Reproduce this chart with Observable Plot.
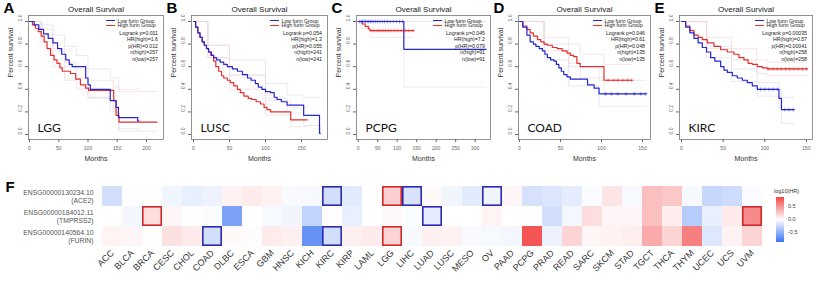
<!DOCTYPE html>
<html><head><meta charset="utf-8">
<script src="https://cdn.jsdelivr.net/npm/d3@7"></script>
<script src="https://cdn.jsdelivr.net/npm/@observablehq/plot@0.6"></script>
<style>
body{margin:0;background:#fff}
#root{position:relative;width:816px;height:281px;overflow:hidden;background:#fff;font-family:"Liberation Sans",Arial,sans-serif}
.abs{position:absolute}
</style></head><body><div id="root"></div>
<script>
// ---------- Kaplan-Meier data ----------
const panelLetters = ["A","B","C","D","E"];
const kmCancers = ["LGG","LUSC","PCPG","COAD","KIRC"];
const stat_logrank = ["0.011","0.054","0.045","0.046","0.00035"];
const stat_hr = ["1.6","1.3","7.2","0.61","0.57"];
const stat_phr = ["0.012","0.055","0.079","0.048","0.00041"];
const stat_nhigh = [257,241,91,135,258];
const stat_nlow = [257,241,91,135,258];
const xTicksA = [0,50,100,150,200];
const xTicksB = [0,50,100,150];
const xTicksC = [0,50,100,150,200,250,300];
const xTicksD = [0,50,100,150];
const xTicksE = [0,50,100,150];
const yTicks = [0,0.2,0.4,0.6,0.8,1.0];

// A  LGG
const A_low_t  = [0,8,16,24,32,40,48,55,62,68,73,96,100,104,138,148,152,185,187];
const A_low_s  = [1,0.97,0.93,0.89,0.85,0.81,0.76,0.71,0.66,0.62,0.60,0.50,0.44,0.40,0.30,0.24,0.15,0.12,0.12];
const A_high_t = [0,5,10,15,20,25,30,36,42,47,52,56,70,79,87,96,101,144,148,153,218];
const A_high_s = [1,0.97,0.94,0.91,0.87,0.82,0.76,0.70,0.66,0.63,0.59,0.56,0.54,0.49,0.44,0.41,0.39,0.30,0.17,0.11,0.11];
const A_ci_t_low  = [0,20,40,60,80,100,138,152,187];
const A_low_lo  = [1,0.88,0.74,0.60,0.50,0.33,0.20,0.05,0.05];
const A_low_hi  = [1,0.97,0.88,0.78,0.70,0.58,0.50,0.40,0.40];
const A_ci_t_high = [0,20,40,60,80,100,144,153,218];
const A_high_lo = [1,0.82,0.60,0.48,0.41,0.32,0.20,0.03,0.03];
const A_high_hi = [1,0.93,0.76,0.64,0.58,0.48,0.42,0.38,0.38];

// B  LUSC
const B_low_t  = [0,3,6,9,12,15,18,21,25,28,32,37,42,47,54,61,68,75,80,86,90,95,100,107,112,116,122,130,153,175,176];
const B_low_s  = [1,0.95,0.90,0.86,0.82,0.79,0.76,0.73,0.70,0.68,0.66,0.64,0.62,0.60,0.58,0.56,0.53,0.50,0.48,0.45,0.42,0.40,0.38,0.37,0.33,0.31,0.29,0.26,0.17,0.01,0.01];
const B_high_t = [0,3,6,9,12,15,18,21,24,28,31,35,39,42,47,51,56,61,65,70,76,81,87,93,98,102,107,135,158];
const B_high_s = [1,0.95,0.90,0.86,0.82,0.79,0.76,0.73,0.70,0.65,0.60,0.56,0.52,0.50,0.48,0.46,0.43,0.40,0.37,0.34,0.32,0.31,0.29,0.27,0.24,0.22,0.20,0.13,0.13];
const B_ci_t_low  = [0,20,50,100,130,153,176];
const B_low_lo  = [1,0.68,0.53,0.32,0.19,0.08,0.0];
const B_low_hi  = [1,0.79,0.66,0.45,0.35,0.33,0.33];
const B_ci_t_high = [0,20,50,100,135,158];
const B_high_lo = [1,0.68,0.40,0.17,0.07,0.07];
const B_high_hi = [1,0.79,0.52,0.30,0.24,0.24];

// C  PCPG
const C_low_t  = [0,117,328];
const C_low_s  = [1,0.754,0.754];
const C_high_t = [0,10,18,26,30,143];
const C_high_s = [1,0.978,0.956,0.934,0.92,0.92];
const C_ci_t_low  = [0,117,328];
const C_low_lo  = [1,0.42,0.42];
const C_low_hi  = [1,1,1];
const C_ci_t_high = [0,10,30,143];
const C_high_lo = [1,0.94,0.86,0.86];
const C_high_hi = [1,1,1,1];
const C_low_cens  = [3,7,11,15,19,23,27,31,35,40,45,50,56,62,68,75,82,90,98,106,113];
const C_high_cens = [35,40,46,52,58,64,70,77,84,92,100,110,120,130,140];

// D  COAD
const D_low_t  = [0,4,9,13,17,20,24,28,31,34,38,42,45,48,51,54,58,62,83,91,97,154];
const D_low_s  = [1,0.95,0.88,0.82,0.80,0.78,0.76,0.74,0.71,0.68,0.66,0.65,0.62,0.59,0.56,0.53,0.51,0.49,0.44,0.41,0.36,0.36];
const D_high_t = [0,4,9,13,17,22,26,30,34,40,46,52,58,62,66,70,74,103,137];
const D_high_s = [1,0.96,0.93,0.90,0.87,0.84,0.82,0.80,0.79,0.77,0.76,0.74,0.72,0.70,0.69,0.63,0.60,0.48,0.48];
const D_ci_t_low  = [0,30,60,97,154];
const D_low_lo  = [1,0.66,0.43,0.25,0.25];
const D_low_hi  = [1,0.80,0.60,0.48,0.48];
const D_ci_t_high = [0,30,60,74,103,137];
const D_high_lo = [1,0.74,0.63,0.50,0.36,0.36];
const D_high_hi = [1,0.86,0.80,0.71,0.62,0.62];
const D_low_cens  = [105,112,120,130,140,148,154];
const D_high_cens = [108,115,120,126,132,137];

// E  KIRC
const E_low_t  = [0,5,10,15,20,25,30,35,40,47,51,55,61,67,73,79,85,91,117,120,135];
const E_low_s  = [1,0.95,0.90,0.85,0.81,0.77,0.73,0.68,0.65,0.60,0.57,0.55,0.52,0.50,0.48,0.46,0.43,0.40,0.32,0.22,0.22];
const E_high_t = [0,5,10,15,20,25,31,39,47,55,63,69,75,80,85,91,97,103,151];
const E_high_s = [1,0.96,0.92,0.88,0.86,0.84,0.81,0.78,0.75,0.73,0.71,0.68,0.66,0.63,0.62,0.60,0.59,0.58,0.58];
const E_ci_t_low  = [0,30,60,91,117,120,135];
const E_low_lo  = [1,0.68,0.47,0.34,0.24,0.10,0.10];
const E_low_hi  = [1,0.78,0.58,0.46,0.40,0.33,0.33];
const E_ci_t_high = [0,30,60,90,103,151];
const E_high_lo = [1,0.76,0.66,0.54,0.52,0.52];
const E_high_hi = [1,0.86,0.76,0.66,0.64,0.64];
const E_low_cens  = [95,100,105,110,115,124,129,134];
const E_high_cens = [105,110,115,120,125,130,135,140,145,150];

// ---------- Heatmap data ----------
const hmCancers = ["ACC","BLCA","BRCA","CESC","CHOL","COAD","DLBC","ESCA","GBM","HNSC","KICH","KIRC","KIRP","LAML","LGG","LIHC","LUAD","LUSC","MESO","OV","PAAD","PCPG","PRAD","READ","SARC","SKCM","STAD","TGCT","THCA","THYM","UCEC","UCS","UVM"];
const hmGenes = ["ENSG00000130234.10\n(ACE2)","ENSG00000184012.11\n(TMPRSS2)","ENSG00000140564.10\n(FURIN)"];
const hr_ace2    = [-0.2,0.0,0.01,-0.06,-0.1,-0.08,0.06,0.09,0.06,-0.03,-0.04,-0.2,-0.13,0.0,0.22,-0.17,0.03,-0.06,-0.13,-0.07,0.04,-0.18,-0.16,-0.12,-0.02,0.12,-0.04,0.3,0.26,-0.04,-0.25,-0.22,-0.02];
const hr_tmprss2 = [0.0,-0.05,0.15,0.04,0.01,-0.02,-0.58,0.0,-0.04,-0.06,-0.27,0.01,-0.1,0.0,0.03,-0.02,-0.12,0.0,0.0,0.05,0.0,0.0,-0.2,-0.05,0.16,0.04,0.04,0.3,0.08,-0.32,-0.1,0.1,0.55];
const hr_furin   = [0.05,0.04,0.01,0.14,0.1,-0.2,0.03,-0.01,0.09,0.07,-0.68,-0.2,0.07,0.09,0.2,-0.04,0.07,0.06,-0.03,-0.04,-0.05,0.8,-0.08,0.2,0.04,0.06,0.08,0.4,0.2,0.6,-0.15,0.06,0.2];
const sig_ace2    = ["KIRC","LGG","LIHC","OV"];
const sig_tmprss2 = ["BRCA","LUAD","UVM"];
const sig_furin   = ["COAD","KIRC","LGG"];
const legendTicks = [0.5,0.0,-0.5];

// ---------- styles / layout ----------
const BLUE = "#2626d2", RED = "#e62e2e";
const BLUE_CI = "#d6d6f4", RED_CI = "#f6d2d2", GRAY_CI = "#e0e0e0";
const FONT = "'Liberation Sans', Arial, sans-serif";
const layout = [
  {frameL:28,  frameR:163, zero:29,    ppm:0.585, ticks:xTicksA},
  {frameL:191, frameR:327, zero:193,   ppm:0.72,  ticks:xTicksB},
  {frameL:356, frameR:490, zero:357.7, ppm:0.39,  ticks:xTicksC},
  {frameL:518, frameR:650, zero:519,   ppm:0.82,  ticks:xTicksD},
  {frameL:679, frameR:812, zero:681,   ppm:0.833, ticks:xTicksE}
];
const kmData = [
  {low:[A_low_t,A_low_s], high:[A_high_t,A_high_s], ciLow:[A_ci_t_low,A_low_lo,A_low_hi], ciHigh:[A_ci_t_high,A_high_lo,A_high_hi]},
  {low:[B_low_t,B_low_s], high:[B_high_t,B_high_s], ciLow:[B_ci_t_low,B_low_lo,B_low_hi], ciHigh:[B_ci_t_high,B_high_lo,B_high_hi]},
  {low:[C_low_t,C_low_s], high:[C_high_t,C_high_s], ciLow:[C_ci_t_low,C_low_lo,C_low_hi], ciHigh:[C_ci_t_high,C_high_lo,C_high_hi], censLow:C_low_cens, censHigh:C_high_cens, gray:true},
  {low:[D_low_t,D_low_s], high:[D_high_t,D_high_s], ciLow:[D_ci_t_low,D_low_lo,D_low_hi], ciHigh:[D_ci_t_high,D_high_lo,D_high_hi], censLow:D_low_cens, censHigh:D_high_cens},
  {low:[E_low_t,E_low_s], high:[E_high_t,E_high_s], ciLow:[E_ci_t_low,E_low_lo,E_low_hi], ciHigh:[E_ci_t_high,E_high_lo,E_high_hi], censLow:E_low_cens, censHigh:E_high_cens}
];

const root = document.getElementById("root");
const zip = (t, s) => t.map((v, i) => ({t: v, s: s[i]}));
const stepAt = (t, s, x) => { let v = s[0]; for (let i = 0; i < t.length; i++) if (t[i] <= x) v = s[i]; return v; };
const FRAME_TOP = 15;

kmData.forEach((d, i) => {
  const L = layout[i];
  const svgLeft = L.frameL - 28;
  const width = L.frameR - svgLeft + 4;
  const xDomain = [(L.frameL - L.zero) / L.ppm, (L.frameR - L.zero) / L.ppm];
  const ciLowColor = d.gray ? GRAY_CI : BLUE_CI;
  const ciHighColor = d.gray ? GRAY_CI : RED_CI;
  const ciOpts = (c) => ({x:"t", y:"s", curve:"step-after", stroke:c, strokeWidth:0.6});
  const marks = [
    Plot.line(zip(d.ciLow[0], d.ciLow[1]), ciOpts(ciLowColor)),
    Plot.line(zip(d.ciLow[0], d.ciLow[2]), ciOpts(ciLowColor)),
    Plot.line(zip(d.ciHigh[0], d.ciHigh[1]), ciOpts(ciHighColor)),
    Plot.line(zip(d.ciHigh[0], d.ciHigh[2]), ciOpts(ciHighColor)),
    Plot.line(zip(d.high[0], d.high[1]), {x:"t", y:"s", curve:"step-after", stroke:RED, strokeWidth:1.2}),
    Plot.line(zip(d.low[0], d.low[1]), {x:"t", y:"s", curve:"step-after", stroke:BLUE, strokeWidth:1.2}),
    Plot.frame({stroke:"#777", strokeWidth:0.8}),
    Plot.axisX({ticks:L.ticks, tickSize:3, tickPadding:4, fontSize:5, label:null, color:"#666"}),
    Plot.axisY({ticks:yTicks, tickSize:3, tickFormat:() => "", label:null, color:"#666"}),
    Plot.text(yTicks, {y:v => v, text:v => v.toFixed(1), frameAnchor:"left", dx:-8, rotate:-90, fontSize:5, fill:"#666"}),
    Plot.text(["Months"], {text:v => v, frameAnchor:"bottom", dy:19, fontSize:7, fill:"#333", lineAnchor:"middle"}),
    Plot.text(["Percent survival"], {text:v => v, frameAnchor:"left", dx:-18, rotate:-90, fontSize:7, fill:"#333"}),
    Plot.text(["Overall Survival"], {text:v => v, frameAnchor:"top", dy:-6, fontSize:8, fill:"#222", lineAnchor:"middle"}),
    Plot.text([panelLetters[i]], {text:v => v, frameAnchor:"top-left", dx:-25, dy:-7, textAnchor:"start", lineAnchor:"middle", fontSize:15, fontWeight:"bold", fill:"#000"}),
    Plot.text(["Low furin Group"], {text:v => v, frameAnchor:"top-right", dx:-46, dy:5.7, textAnchor:"start", lineAnchor:"middle", fontSize:5.2, fill:"#222"}),
    Plot.text(["High furin Group"], {text:v => v, frameAnchor:"top-right", dx:-46, dy:10.2, textAnchor:"start", lineAnchor:"middle", fontSize:5.2, fill:"#222"}),
    Plot.text([`Logrank p=${stat_logrank[i]}\nHR(high)=${stat_hr[i]}\np(HR)=${stat_phr[i]}\nn(high)=${stat_nhigh[i]}\nn(low)=${stat_nlow[i]}`],
      {text:v => v, frameAnchor:"top-right", dx:-5.5, dy:14.8, textAnchor:"end", lineAnchor:"top", lineHeight:1.25, fontSize:5.2, fill:"#222"}),
    Plot.text([kmCancers[i]], {text:v => v, frameAnchor:"bottom-left", dx:9, dy:-11, textAnchor:"start", lineAnchor:"middle", fontSize:12, fontFamily:"Lato, 'Open Sans', sans-serif", fill:"#111"})
  ];
  if (d.censLow) marks.push(Plot.dot(d.censLow, {x:v => v, y:v => stepAt(d.low[0], d.low[1], v), symbol:"plus", r:1.3, stroke:BLUE, strokeWidth:0.5}));
  if (d.censHigh) marks.push(Plot.dot(d.censHigh, {x:v => v, y:v => stepAt(d.high[0], d.high[1], v), symbol:"plus", r:1.3, stroke:RED, strokeWidth:0.5}));
  const p = Plot.plot({
    width, height:165, marginLeft:28, marginRight:4, marginTop:FRAME_TOP, marginBottom:26,
    x:{domain:xDomain}, y:{domain:[-0.044,1.053]},
    style:{background:"transparent", fontFamily:FONT, overflow:"visible"},
    marks
  });
  p.classList.add("abs");
  p.style.left = svgLeft + "px";
  p.style.top = "0px";
  root.appendChild(p);
  // legend swatches (line keys)
  [[BLUE, 5.7], [RED, 10.2]].forEach(([c, dy]) => {
    const sw = document.createElement("div");
    sw.className = "abs";
    Object.assign(sw.style, {left: (L.frameR - 57) + "px", top: Math.round(FRAME_TOP + dy - 0.5) + "px", width: "9px", height: "1px", background: c});
    root.appendChild(sw);
  });
});

// ---------- Heatmap ----------
const rows = [hr_ace2, hr_tmprss2, hr_furin];
const sigs = [sig_ace2, sig_tmprss2, sig_furin];
const cells = [];
rows.forEach((vals, r) => vals.forEach((v, c) => cells.push({cancer: hmCancers[c], gene: hmGenes[r], value: v, sig: sigs[r].includes(hmCancers[c])})));
const CMIN = -0.87, CMAX = 0.87;
const C_LOW = "#3b74f2", C_MID = "#ffffff", C_HIGH = "#f24646";
const hm = Plot.plot({
  width:816, height:116, marginTop:20, marginBottom:34, marginLeft:98, marginRight:51,
  x:{domain:hmCancers, padding:0},
  y:{domain:hmGenes, padding:0},
  color:{type:"linear", domain:[CMIN,0,CMAX], range:[C_LOW,C_MID,C_HIGH], interpolate:"rgb"},
  style:{background:"transparent", fontFamily:FONT, overflow:"visible"},
  marks:[
    Plot.cell(cells, {x:"cancer", y:"gene", fill:"value", inset:0}),
    Plot.cell(cells.filter(d => d.sig && d.value > 0), {x:"cancer", y:"gene", fill:"none", stroke:"#d02828", strokeWidth:1.6, inset:0.8}),
    Plot.cell(cells.filter(d => d.sig && d.value <= 0), {x:"cancer", y:"gene", fill:"none", stroke:"#2a2ab4", strokeWidth:1.6, inset:0.8}),
    Plot.axisX({tickSize:0, tickRotate:-45, tickPadding:4, fontSize:9, label:null, color:"#333"}),
    Plot.axisY({tickSize:0, tickPadding:5, fontSize:6.8, label:null, color:"#555", lineHeight:1.13}),
    Plot.text(["F"], {text:v => v, frameAnchor:"top-left", dx:-93, dy:2, textAnchor:"start", lineAnchor:"middle", fontSize:15, fontWeight:"bold", fill:"#000"})
  ]
});
hm.classList.add("abs");
hm.style.left = "0px";
hm.style.top = "165px";
root.appendChild(hm);

// ---------- colour legend ----------
const barTop = 197, barH = 45, barLeft = 776;
const bar = document.createElement("div");
bar.className = "abs";
Object.assign(bar.style, {left: barLeft + "px", top: barTop + "px", width: "8px", height: barH + "px",
  background: `linear-gradient(to bottom, ${C_HIGH}, ${C_MID} 50%, ${C_LOW})`});
root.appendChild(bar);
const ttl = document.createElement("div");
ttl.className = "abs";
ttl.textContent = "log10(HR)";
Object.assign(ttl.style, {left: "774px", top: "188px", fontSize: "5.5px", color: "#333", whiteSpace: "nowrap"});
root.appendChild(ttl);
legendTicks.forEach(v => {
  const el = document.createElement("div");
  el.className = "abs";
  el.textContent = v.toFixed(1);
  const y = barTop + (CMAX - v) / (CMAX - CMIN) * barH;
  Object.assign(el.style, {left: "788px", top: (y - 3.5) + "px", fontSize: "5.5px", color: "#444", lineHeight: "7px"});
  root.appendChild(el);
});
</script></body></html>
